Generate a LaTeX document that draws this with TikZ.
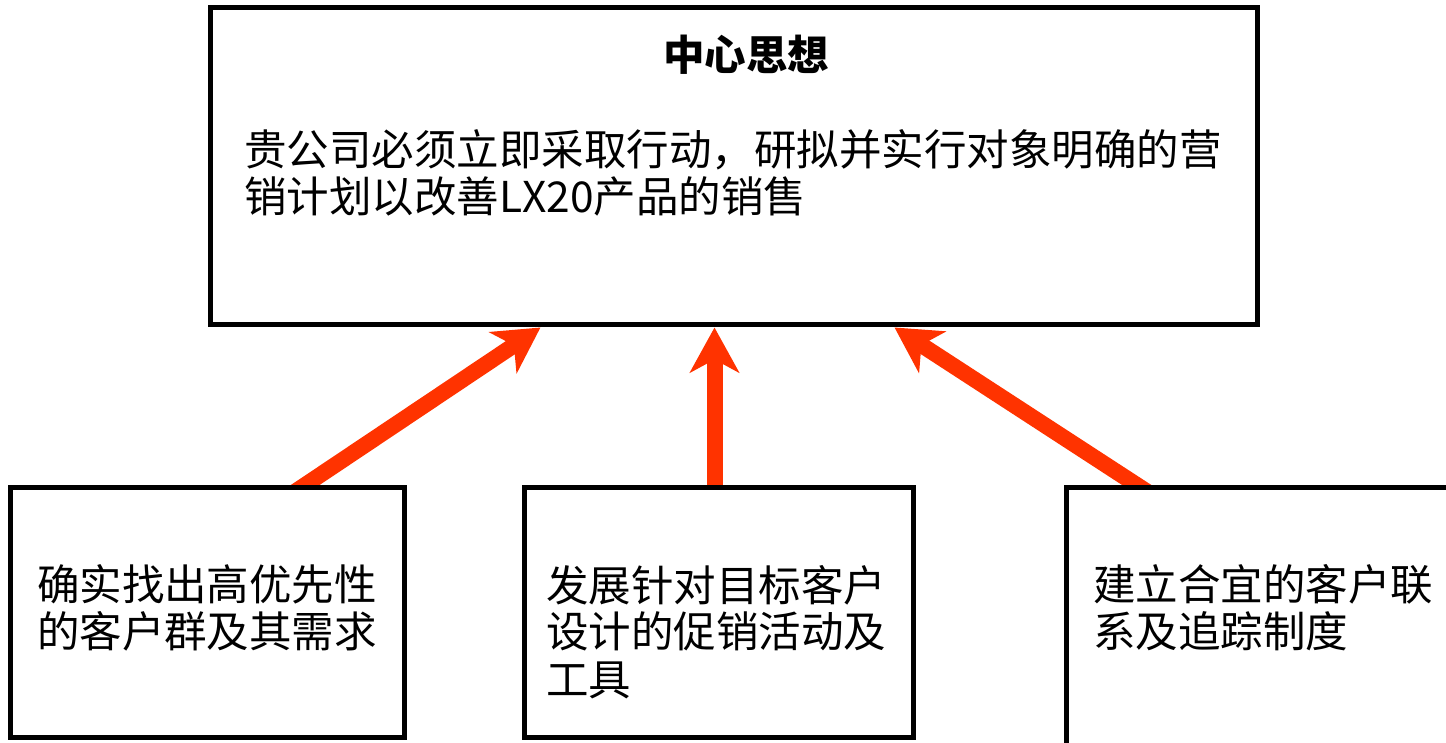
\documentclass[tikz,border=0pt]{standalone}
\usepackage{fontspec}
\setmainfont{Noto Sans CJK SC}
\usetikzlibrary{arrows.meta,calc}
\definecolor{arrowred}{RGB}{255,51,0}
\pgfdeclarelayer{bg}
\pgfsetlayers{bg,main}
\tikzset{
  box/.style={draw=black, line width=5pt, fill=white, rectangle, inner sep=0pt},
  txt/.style={inner sep=0pt, outer sep=0pt, align=left, font=\fontsize{42.5}{47}\selectfont},
  bigarrow/.style={draw=arrowred, line width=16pt, -{Stealth[length=45pt,width=49pt,inset=13pt]}}
}
\begin{document}
\begin{tikzpicture}[x=1pt,y=1pt]
\useasboundingbox (0,0) rectangle (1446,742);
\node[box, minimum width=1047pt, minimum height=317pt] (top) at (733.5,575.5) {};
\node[box, minimum width=394pt, minimum height=249pt] (b1) at (207,129.5) {};
\node[box, minimum width=389pt, minimum height=249pt] (b2) at (718.5,129.5) {};
\node[box, minimum width=394pt, minimum height=272pt] (b3) at (1263,118) {};
\node[txt, anchor=base, font=\fontsize{41.5}{47}\selectfont\bfseries] (title) at (746,671) {中心思想};
\node[txt, anchor=base west] (body) at (244,529) {贵公司必须立即采取行动，研拟并实行对象明确的营\\销计划以改善LX20产品的销售};
\node[txt, anchor=base west] (t1) at (37,94) {确实找出高优先性\\的客户群及其需求};
\node[txt, anchor=base west] (t2) at (546,47) {发展针对目标客户\\设计的促销活动及\\工具};
\node[txt, anchor=base west] (t3) at (1093,94) {建立合宜的客户联\\系及追踪制度};
\begin{pgfonlayer}{bg}
  \coordinate (s1) at ([xshift=297pt]b1.north west);
  \coordinate (e1) at ([xshift=333pt]top.south west);
  \coordinate (s2) at ([xshift=193pt]b2.north west);
  \coordinate (e2) at ([xshift=507pt]top.south west);
  \coordinate (s3) at ([xshift=74pt]b3.north west);
  \coordinate (e3) at ([xshift=687pt]top.south west);
  \draw[bigarrow] ($(s1)!-15pt!(e1)$) -- (e1);
  \draw[bigarrow] ($(s2)!-15pt!(e2)$) -- (e2);
  \draw[bigarrow] ($(s3)!-15pt!(e3)$) -- (e3);
\end{pgfonlayer}
\end{tikzpicture}
\end{document}
